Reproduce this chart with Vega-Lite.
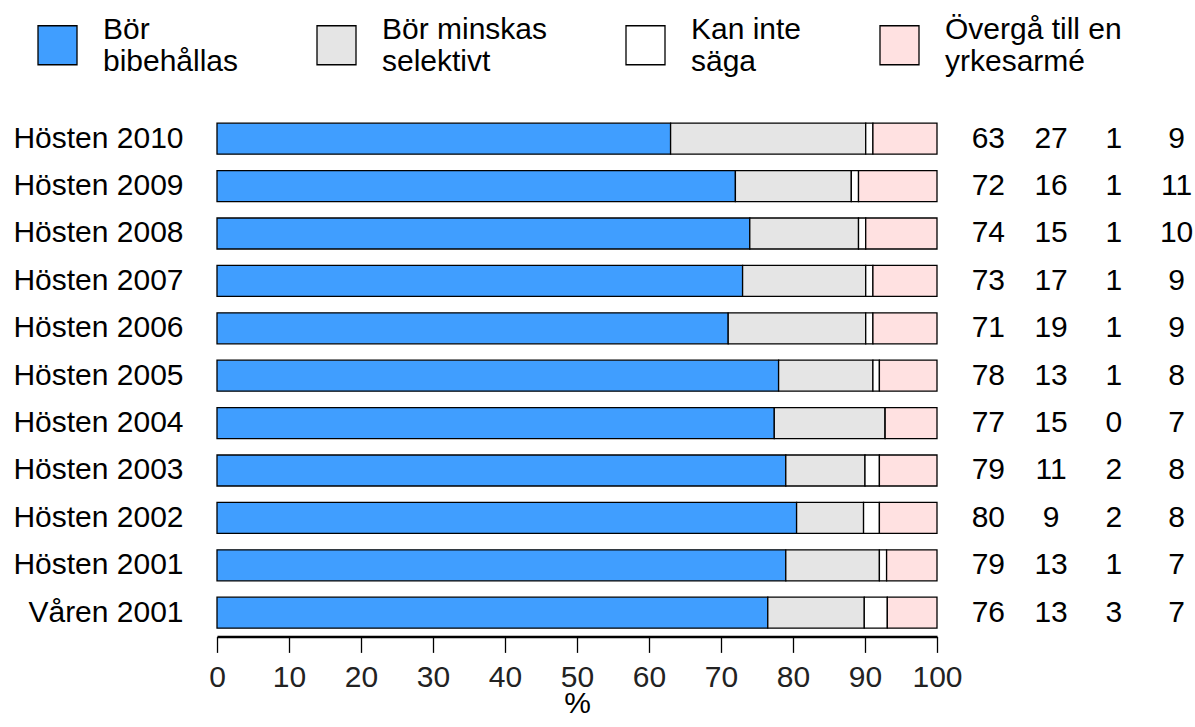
{
  "$schema": "https://vega.github.io/schema/vega-lite/v6.json",
  "background": "white",
  "padding": {"left": 12, "top": 24, "right": 0, "bottom": 0},
  "autosize": {"type": "pad"},
  "bounds": "flush",
  "config": {"font": "Liberation Sans", "view": {"stroke": null}},
  "data": {"values": [
    {"p": "Hösten 2010", "c": "Bör bibehållas", "v": 63.0, "n": 63},
    {"p": "Hösten 2010", "c": "Bör minskas selektivt", "v": 27.1, "n": 27},
    {"p": "Hösten 2010", "c": "Kan inte säga", "v": 1.0, "n": 1},
    {"p": "Hösten 2010", "c": "Övergå till en yrkesarmé", "v": 8.9, "n": 9},
    {"p": "Hösten 2009", "c": "Bör bibehållas", "v": 72.0, "n": 72},
    {"p": "Hösten 2009", "c": "Bör minskas selektivt", "v": 16.1, "n": 16},
    {"p": "Hösten 2009", "c": "Kan inte säga", "v": 1.0, "n": 1},
    {"p": "Hösten 2009", "c": "Övergå till en yrkesarmé", "v": 10.9, "n": 11},
    {"p": "Hösten 2008", "c": "Bör bibehållas", "v": 74.0, "n": 74},
    {"p": "Hösten 2008", "c": "Bör minskas selektivt", "v": 15.1, "n": 15},
    {"p": "Hösten 2008", "c": "Kan inte säga", "v": 1.0, "n": 1},
    {"p": "Hösten 2008", "c": "Övergå till en yrkesarmé", "v": 9.9, "n": 10},
    {"p": "Hösten 2007", "c": "Bör bibehållas", "v": 73.0, "n": 73},
    {"p": "Hösten 2007", "c": "Bör minskas selektivt", "v": 17.1, "n": 17},
    {"p": "Hösten 2007", "c": "Kan inte säga", "v": 1.0, "n": 1},
    {"p": "Hösten 2007", "c": "Övergå till en yrkesarmé", "v": 8.9, "n": 9},
    {"p": "Hösten 2006", "c": "Bör bibehållas", "v": 71.0, "n": 71},
    {"p": "Hösten 2006", "c": "Bör minskas selektivt", "v": 19.1, "n": 19},
    {"p": "Hösten 2006", "c": "Kan inte säga", "v": 1.0, "n": 1},
    {"p": "Hösten 2006", "c": "Övergå till en yrkesarmé", "v": 8.9, "n": 9},
    {"p": "Hösten 2005", "c": "Bör bibehållas", "v": 78.0, "n": 78},
    {"p": "Hösten 2005", "c": "Bör minskas selektivt", "v": 13.1, "n": 13},
    {"p": "Hösten 2005", "c": "Kan inte säga", "v": 0.9, "n": 1},
    {"p": "Hösten 2005", "c": "Övergå till en yrkesarmé", "v": 8.0, "n": 8},
    {"p": "Hösten 2004", "c": "Bör bibehållas", "v": 77.4, "n": 77},
    {"p": "Hösten 2004", "c": "Bör minskas selektivt", "v": 15.4, "n": 15},
    {"p": "Hösten 2004", "c": "Kan inte säga", "v": 0.0, "n": 0},
    {"p": "Hösten 2004", "c": "Övergå till en yrkesarmé", "v": 7.2, "n": 7},
    {"p": "Hösten 2003", "c": "Bör bibehållas", "v": 79.0, "n": 79},
    {"p": "Hösten 2003", "c": "Bör minskas selektivt", "v": 11.0, "n": 11},
    {"p": "Hösten 2003", "c": "Kan inte säga", "v": 2.0, "n": 2},
    {"p": "Hösten 2003", "c": "Övergå till en yrkesarmé", "v": 8.0, "n": 8},
    {"p": "Hösten 2002", "c": "Bör bibehållas", "v": 80.5, "n": 80},
    {"p": "Hösten 2002", "c": "Bör minskas selektivt", "v": 9.3, "n": 9},
    {"p": "Hösten 2002", "c": "Kan inte säga", "v": 2.2, "n": 2},
    {"p": "Hösten 2002", "c": "Övergå till en yrkesarmé", "v": 8.0, "n": 8},
    {"p": "Hösten 2001", "c": "Bör bibehållas", "v": 79.0, "n": 79},
    {"p": "Hösten 2001", "c": "Bör minskas selektivt", "v": 13.0, "n": 13},
    {"p": "Hösten 2001", "c": "Kan inte säga", "v": 1.0, "n": 1},
    {"p": "Hösten 2001", "c": "Övergå till en yrkesarmé", "v": 7.0, "n": 7},
    {"p": "Våren 2001", "c": "Bör bibehållas", "v": 76.5, "n": 76},
    {"p": "Våren 2001", "c": "Bör minskas selektivt", "v": 13.4, "n": 13},
    {"p": "Våren 2001", "c": "Kan inte säga", "v": 3.2, "n": 3},
    {"p": "Våren 2001", "c": "Övergå till en yrkesarmé", "v": 6.9, "n": 7}
  ]},
  "spacing": 20,
  "hconcat": [
    {
      "width": 720,
      "height": 521.4,
      "mark": {"type": "bar", "stroke": "#000", "strokeWidth": 1.3},
      "encoding": {
        "y": {
          "field": "p", "type": "nominal", "sort": null,
          "scale": {"paddingInner": 0.346, "paddingOuter": 0.173},
          "axis": {"title": null, "domain": false, "ticks": false, "labelPadding": 34, "labelFontSize": 30, "labelColor": "#000", "labelLimit": 400}
        },
        "x": {
          "field": "v", "type": "quantitative", "stack": "zero",
          "scale": {"domain": [0, 100], "nice": false},
          "axis": {
            "title": "%", "titleFontSize": 30, "titleFontWeight": "normal", "titleColor": "#000", "titlePadding": -4,
            "values": [0, 10, 20, 30, 40, 50, 60, 70, 80, 90, 100],
            "grid": false, "domainColor": "#000", "domainWidth": 2.5, "tickColor": "#000", "tickWidth": 1.3, "tickSize": 16,
            "labelFontSize": 30, "labelColor": "#222", "labelPadding": 10, "labelFlush": false, "labelOverlap": false
          }
        },
        "color": {
          "field": "c", "type": "nominal",
          "scale": {
            "domain": ["Bör bibehållas", "Bör minskas selektivt", "Kan inte säga", "Övergå till en yrkesarmé"],
            "range": ["#409EFF", "#E5E5E5", "#FFFFFF", "#FFE1E1"]
          },
          "legend": {
            "orient": "none", "legendX": -180, "legendY": -90.5, "direction": "horizontal", "columns": 4,
            "title": null, "padding": 0,
            "symbolType": "square", "symbolSize": 1521, "symbolStrokeColor": "#000", "symbolStrokeWidth": 1.3, "symbolOpacity": 1,
            "labelFontSize": 30, "labelColor": "#000", "labelOffset": 25, "columnPadding": 75, "labelLimit": 500,
            "labelBaseline": "bottom",
            "labelExpr": "[slice(datum.label, 0, lastindexof(datum.label, ' ')), slice(datum.label, lastindexof(datum.label, ' ') + 1)]"
          }
        }
      }
    },
    {
      "width": 251,
      "height": 521.4,
      "mark": {"type": "text", "fontSize": 30, "color": "#000"},
      "encoding": {
        "y": {"field": "p", "type": "nominal", "sort": null, "scale": {"type": "point", "padding": 0.5}, "axis": null},
        "x": {"field": "c", "type": "nominal", "scale": {"type": "point", "padding": 0.5, "domain": ["Bör bibehållas", "Bör minskas selektivt", "Kan inte säga", "Övergå till en yrkesarmé"]}, "axis": null},
        "text": {"field": "n", "type": "quantitative"}
      }
    }
  ]
}
